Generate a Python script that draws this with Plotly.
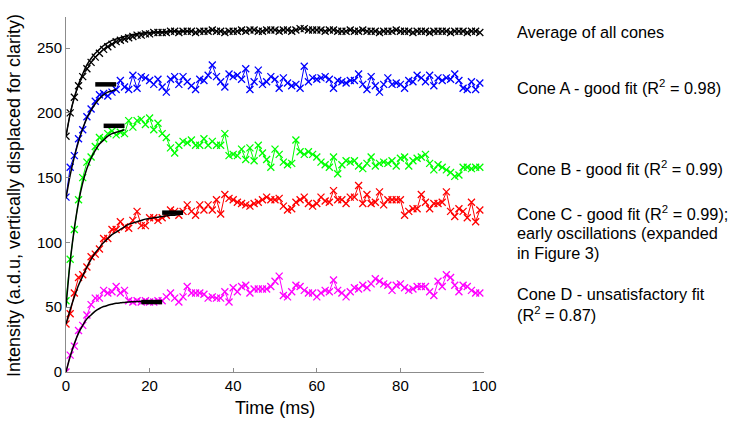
import plotly.graph_objects as go

time_ms = list(range(100))

average = [182, 200, 212, 221, 228, 234, 239, 243, 246, 249,
           251, 253, 255, 256, 257, 258, 259, 260, 260, 261,
           261, 262, 262, 262, 262, 263, 263, 262, 263, 263,
           263, 262, 263, 263, 263, 264, 263, 263, 262, 263,
           263, 263, 264, 263, 264, 264, 263, 263, 264, 264,
           264, 263, 264, 264, 263, 264, 265, 265, 264, 264,
           264, 264, 263, 264, 264, 263, 263, 263, 264, 263,
           263, 264, 263, 263, 263, 262, 263, 263, 263, 264,
           263, 263, 263, 262, 263, 263, 263, 262, 263, 263,
           263, 263, 262, 263, 263, 263, 262, 263, 263, 262]

cone_a = [135, 158, 167, 180, 187, 197, 203, 209, 214, 215,
          213, 216, 218, 225, 220, 218, 229, 219, 228, 227,
          225, 222, 226, 220, 216, 226, 228, 222, 228, 224,
          221, 218, 226, 225, 229, 237, 228, 224, 220, 230,
          228, 229, 226, 234, 218, 224, 233, 222, 224, 228,
          226, 219, 227, 223, 221, 222, 219, 236, 224, 227,
          226, 227, 228, 226, 219, 225, 224, 223, 225, 225,
          230, 222, 218, 228, 221, 216, 222, 227, 222, 223,
          222, 219, 225, 224, 229, 227, 224, 229, 221, 227,
          225, 227, 226, 230, 225, 219, 218, 224, 218, 223]

cone_b = [55, 87, 110, 133, 150, 162, 166, 174, 181, 180,
          184, 186, 183, 185, 184, 194, 189, 194, 195, 191,
          196, 187, 192, 184, 181, 173, 169, 175, 178, 177,
          179, 175, 175, 180, 175, 178, 175, 175, 184, 167,
          168, 167, 172, 164, 173, 163, 175, 169, 164, 158,
          172, 168, 162, 160, 161, 179, 170, 168, 170, 168,
          166, 162, 160, 158, 166, 153, 160, 163, 162, 163,
          159, 157, 161, 166, 159, 161, 162, 161, 163, 159,
          165, 166, 159, 163, 165, 166, 168, 161, 156, 160,
          158, 156, 154, 151, 152, 158, 158, 157, 158, 158]

cone_c = [37, 45, 61, 73, 75, 81, 89, 91, 95, 103,
          103, 110, 110, 116, 112, 111, 117, 124, 113, 113,
          119, 119, 117, 119, 121, 125, 124, 121, 124, 129,
          124, 121, 129, 125, 129, 125, 133, 122, 137, 134,
          133, 131, 130, 129, 128, 130, 131, 133, 135, 133,
          133, 134, 128, 125, 126, 131, 133, 135, 130, 128,
          130, 135, 132, 131, 140, 133, 133, 130, 135, 135,
          144, 130, 137, 130, 131, 139, 129, 133, 133, 133,
          133, 121, 124, 126, 126, 137, 131, 126, 130, 130,
          131, 139, 124, 120, 126, 124, 119, 131, 116, 125]

cone_d = [0, 13, 20, 32, 36, 44, 52, 57, 57, 63,
          61, 62, 66, 61, 63, 55, 54, 55, 54, 55,
          54, 54, 55, 55, 58, 61, 57, 54, 58, 66,
          61, 61, 61, 60, 57, 58, 57, 57, 62, 54,
          65, 62, 66, 67, 61, 64, 64, 64, 64, 66,
          70, 74, 59, 58, 62, 67, 66, 63, 61, 61,
          58, 61, 63, 62, 71, 63, 61, 58, 62, 65,
          64, 67, 65, 68, 72, 70, 68, 67, 63, 67,
          68, 65, 63, 64, 66, 66, 66, 62, 59, 70,
          66, 75, 73, 67, 62, 67, 66, 63, 61, 61]

# fitted curves
fit_avg_t = list(range(31))
fit_avg = [182, 199, 212, 222, 230, 237, 242, 246, 249, 252,
           254, 256, 257, 258, 259, 260, 260.5, 261, 261.5, 262,
           262, 262.3, 262.5, 262.7, 262.8, 263, 263, 263, 263, 263, 263]
fit_a_t = list(range(13))
fit_a = [134, 152, 166, 178, 188, 196, 202, 207, 211, 214, 216, 217, 218]
fit_b_t = list(range(15))
fit_b = [50, 85, 111, 131, 146, 157, 165, 171, 176, 179, 182, 184, 185, 186, 187]
fit_c_t = list(range(29))
fit_c = [37, 48, 58, 67, 74, 81, 87, 92, 96, 100, 103, 106, 108, 110, 112,
         114, 115, 116, 117, 118, 118.5, 119, 119.5, 120, 120.5, 121, 121, 121.5, 122]
fit_d_t = list(range(24))
fit_d = [0, 12, 22, 30, 36, 41, 44, 47, 49, 50.5, 51.5, 52.3, 53, 53.4, 53.7,
         54, 54.2, 54.4, 54.5, 54.6, 54.7, 54.8, 54.8, 54.9]

# steady-state bars: (start, end, level)
bar_starts = [7, 9, 23, 18]
bar_ends = [12, 14, 28, 23]
bar_levels = [222, 190, 123, 54]

# right-hand labels, one entry per text line, with the level of each line
label_lines = ["Average of all cones",
               "Cone A - good fit (R<sup>2</sup> = 0.98)",
               "Cone B - good fit (R<sup>2</sup> = 0.99)",
               "Cone C - good fit (R<sup>2</sup> = 0.99);",
               "early oscillations (expanded",
               "in Figure 3)",
               "Cone D - unsatisfactory fit",
               "(R<sup>2</sup> = 0.87)"]
label_levels = [262.3, 219.9, 157.4, 122.7, 107.4, 91.8, 60.2, 44.6]

series = [(average, "black"), (cone_a, "#0000FF"), (cone_b, "#00FF00"),
          (cone_c, "#FF0000"), (cone_d, "#FF00FF")]

fig = go.Figure()
for vals, col in series:
    fig.add_trace(go.Scatter(
        x=time_ms, y=vals, mode="lines+markers",
        line=dict(color=col, width=1),
        marker=dict(symbol="x-thin", size=7, line=dict(color=col, width=1.3), color=col),
        showlegend=False, hoverinfo="skip"))

for ft, fv in [(fit_avg_t, fit_avg), (fit_a_t, fit_a), (fit_b_t, fit_b),
               (fit_c_t, fit_c), (fit_d_t, fit_d)]:
    fig.add_trace(go.Scatter(x=ft, y=fv, mode="lines", line=dict(color="black", width=1.5, shape="spline"),
                             showlegend=False, hoverinfo="skip"))

for s, e, lv in zip(bar_starts, bar_ends, bar_levels):
    fig.add_trace(go.Scatter(x=[s, e], y=[lv, lv], mode="lines", line=dict(color="black", width=4.5),
                             showlegend=False, hoverinfo="skip"))

font_family = "Liberation Sans, Arial, sans-serif"
annotations = []
for txt, lv in zip(label_lines, label_levels):
    annotations.append(dict(x=1.074, xref="paper", y=lv, yref="y", text=txt, showarrow=False,
                            xanchor="left", yanchor="middle", align="left",
                            font=dict(family=font_family, size=16.3, color="black")))
annotations.append(dict(x=-0.124, xref="paper", y=0.496, yref="paper",
                        text="Intensity (a.d.u, vertically displaced for clarity)",
                        textangle=-90, showarrow=False, xanchor="center", yanchor="middle",
                        font=dict(family=font_family, size=18, color="black")))
annotations.append(dict(x=0.5, xref="paper", y=-0.101, yref="paper", text="Time (ms)",
                        showarrow=False, xanchor="center", yanchor="middle",
                        font=dict(family=font_family, size=18, color="black")))

fig.update_layout(
    width=738, height=424,
    margin=dict(l=66, r=254, t=17, b=52),
    plot_bgcolor="white", paper_bgcolor="white",
    font=dict(family=font_family, size=15, color="black"),
    annotations=annotations,
)
fig.update_xaxes(range=[0, 100], tickvals=[0, 20, 40, 60, 80, 100], showgrid=False, zeroline=False,
                 showline=True, linecolor="#8c8c8c", linewidth=1, ticks="inside", ticklen=4,
                 tickcolor="#8c8c8c", tickfont=dict(size=15))
fig.update_yaxes(range=[0, 274], tickvals=[0, 50, 100, 150, 200, 250], showgrid=False, zeroline=False,
                 showline=True, linecolor="#8c8c8c", linewidth=1, ticks="inside", ticklen=4,
                 tickcolor="#8c8c8c", tickfont=dict(size=15))

# remove the browser's default 8px page margin so the figure fills the window exactly
fig.write_html("out.html", config={"displayModeBar": False},
               post_script="document.body.style.margin='0px';document.body.style.overflow='hidden';")
